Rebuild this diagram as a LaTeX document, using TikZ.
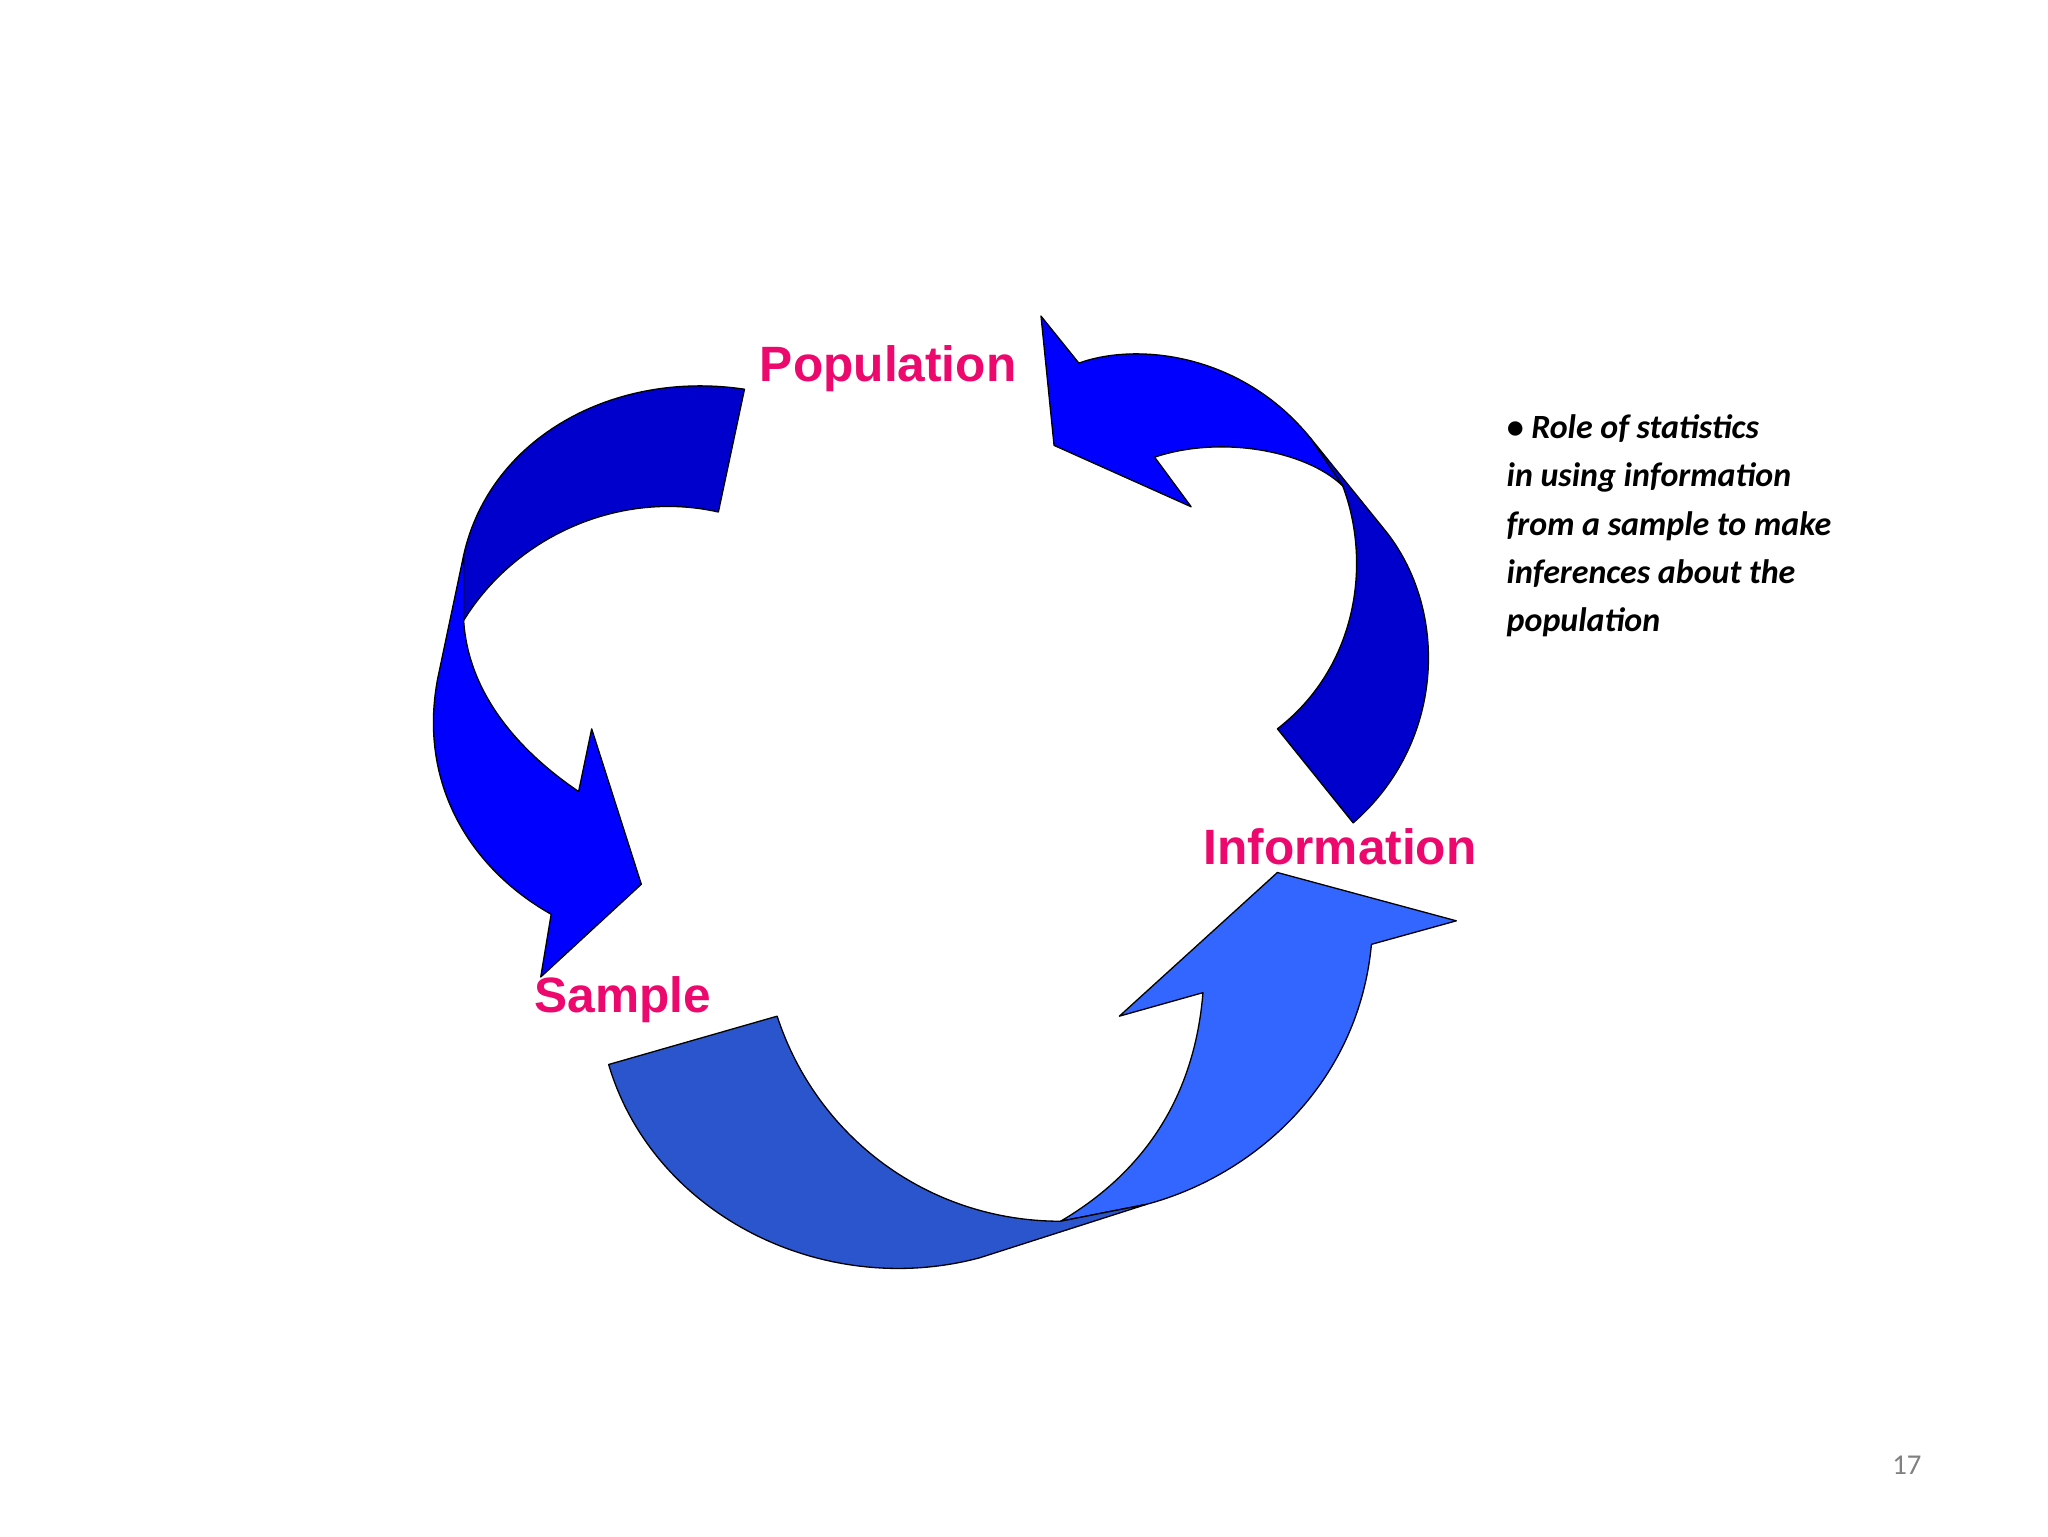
\documentclass[tikz,border=0pt]{standalone}
\usepackage{fontspec}
\setmainfont{Carlito}
\newfontfamily\heavy{Liberation Sans}
\begin{document}
\begin{tikzpicture}[x=1pt,y=-1pt,
  rib/.style={draw=black,line width=1pt,line join=round},
  lab/.style={text=magenta!70!red,font=\heavy\bfseries\fontsize{38}{40}\selectfont}]
\useasboundingbox (0,0) rectangle (1568,1176);
\definecolor{dk}{HTML}{0000CC}\definecolor{br}{HTML}{0000FF}
\definecolor{md}{HTML}{2B55CC}\definecolor{lt}{HTML}{3366FF}
% top-left arrow
\fill[br,rib] (355,425) -- (335,520) .. controls (320,600) and (360,665) .. (422,700) -- (414,748) -- (491,677) -- (453,558) -- (443,606) .. controls (390,570) and (358,525) .. (355,475) -- cycle;
\fill[dk,rib] (570,298) .. controls (470,283) and (375,335) .. (355,425) -- (355,475) .. controls (395,410) and (475,375) .. (550,392) -- cycle;
% top-right arrow
\fill[dk,rib] (1003,335) -- (1062,408) .. controls (1110,470) and (1105,570) .. (1036,630) -- (978,558) .. controls (1040,510) and (1050,430) .. (1028,372) -- cycle;
\fill[br,rib] (797,242) -- (807,341) -- (912,388) -- (884,350) .. controls (935,333) and (1000,345) .. (1028,372) -- (1003,335) .. controls (950,270) and (870,262) .. (826,278) -- cycle;
% bottom arrow
\fill[lt,rib] (812,935) .. controls (880,895) and (915,835) .. (921,760) -- (857,778) -- (978,668) -- (1115,705) -- (1050,723) .. controls (1040,830) and (960,900) .. (878,922) -- cycle;
\fill[md,rib] (466,815) -- (595,778) .. controls (625,870) and (710,935) .. (812,935) -- (878,922) -- (750,963) .. controls (630,995) and (500,930) .. (466,815) -- cycle;
\node[lab] (pop) at (680,282) {Population};
\node[lab] (inf) at (1026,648) {Information};
\node[lab] (smp) at (477,765) {Sample};
\node[anchor=north west,align=left,font=\bfseries\itshape\fontsize{26}{37}\selectfont] (txt) at (1150,314)
 {• Role of statistics\\in using information\\from a sample to make\\inferences about the\\population};
\node[text=gray,font=\fontsize{22}{24}\selectfont] (pg) at (1460,1122) {17};
\end{tikzpicture}
\end{document}
